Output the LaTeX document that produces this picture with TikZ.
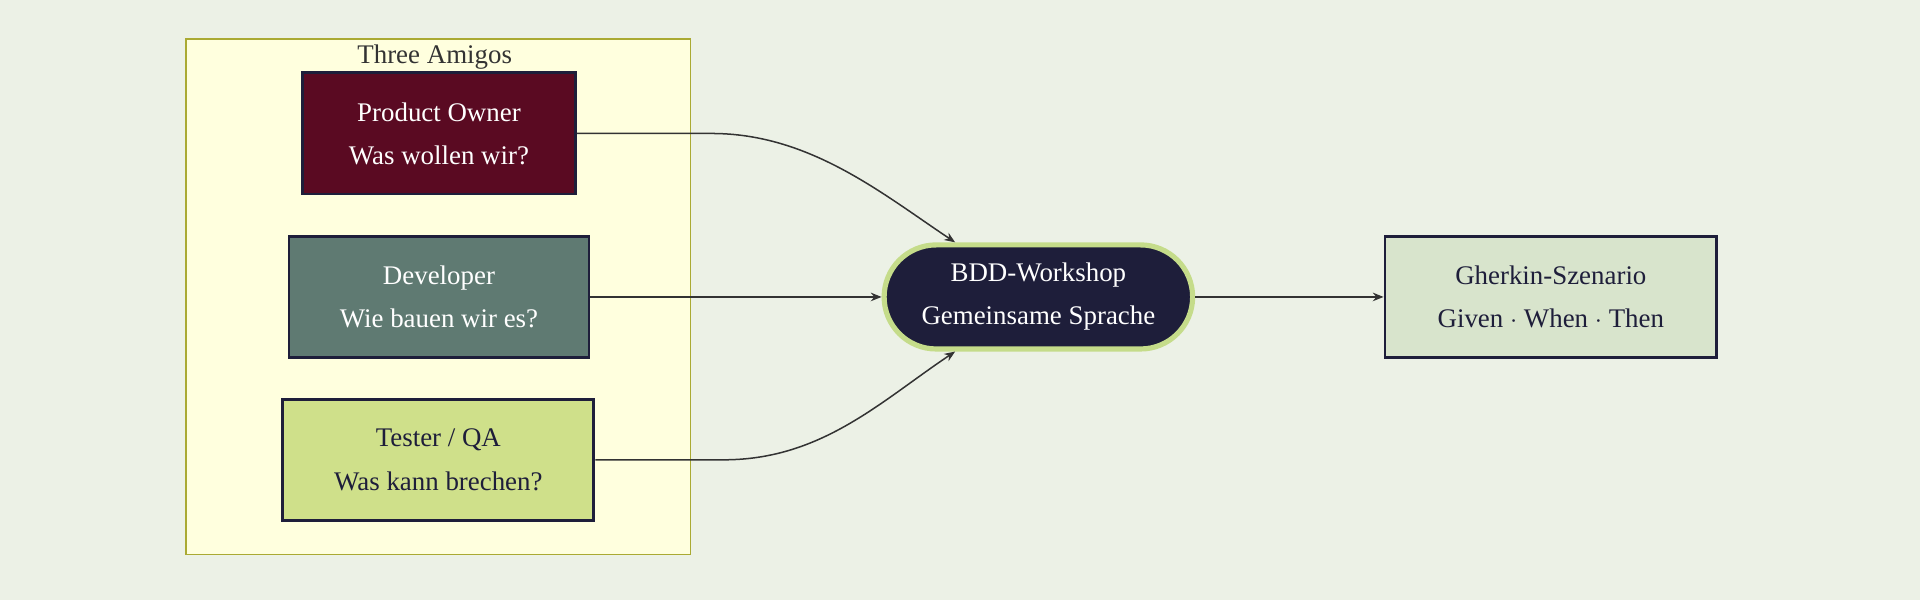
\documentclass[tikz,border=0pt]{standalone}
\usepackage{fontspec}
\setmainfont{Liberation Serif}
\usetikzlibrary{positioning,arrows.meta}
\definecolor{bgcol}{HTML}{ECF1E6}
\definecolor{clusterfill}{HTML}{FFFFDE}
\definecolor{clusterline}{HTML}{AAAA33}
\definecolor{pocol}{HTML}{5A0A22}
\definecolor{devcol}{HTML}{5F7A72}
\definecolor{qacol}{HTML}{CFE08A}
\definecolor{bddcol}{HTML}{1E1E3A}
\definecolor{bddline}{HTML}{C5DC8A}
\definecolor{gherkcol}{HTML}{D8E4CC}
\definecolor{inkcol}{HTML}{1E1E3A}
\tikzset{
  role/.style={draw=inkcol, line width=1.3pt, align=center,
    font=\fontsize{12.5}{20}\selectfont, minimum height=1.98cm},
  edge/.style={draw=black!80, line width=0.7pt, -{Stealth[length=5pt,width=4pt]}},
}
\begin{document}
\begin{tikzpicture}[x=0.02cm, y=-0.02cm]
    \useasboundingbox[fill=bgcol] (0,0) rectangle (1568,490);
    % cluster
    \draw[fill=clusterfill, draw=clusterline, line width=0.7pt] (152,32) rectangle (564,453);
    \node[font=\fontsize{12.5}{15}\selectfont, text=black!80] (title) at (355,47) {Three Amigos};

    \node[role, fill=pocol, text=white, minimum width=4.46cm] (po) at (358.5,109)
      {Product Owner\\Was wollen wir?};
    \node[role, fill=devcol, text=white, minimum width=4.9cm] (dev) at (358.5,242.5)
      {Developer\\Wie bauen wir es?};
    \node[role, fill=qacol, text=inkcol, minimum width=5.08cm] (qa) at (358,375.5)
      {Tester / QA\\Was kann brechen?};

    \node[role, fill=bddcol, text=white, draw=bddline, line width=2.4pt,
      rounded corners=0.85cm, minimum width=5.04cm, minimum height=1.7cm] (bdd) at (848,242.5)
      {BDD-Workshop\\Gemeinsame Sprache};
    \node[role, fill=gherkcol, text=inkcol, minimum width=5.42cm] (gherkin) at (1266.5,242.5)
      {Gherkin-Szenario\\Given $\cdot$ When $\cdot$ Then};

    % connectors
    \draw[edge] (po.east) -- ++(110,0) .. controls +(80,0) and +(-60,-40) .. ([xshift=-1.36cm]bdd.north);
    \draw[edge] (dev.east) -- (bdd.west);
    \draw[edge] (qa.east) -- ++(105,0) .. controls +(80,0) and +(-60,40) .. ([xshift=-1.36cm]bdd.south);
    \draw[edge] (bdd.east) -- (gherkin.west);
\end{tikzpicture}
\end{document}
